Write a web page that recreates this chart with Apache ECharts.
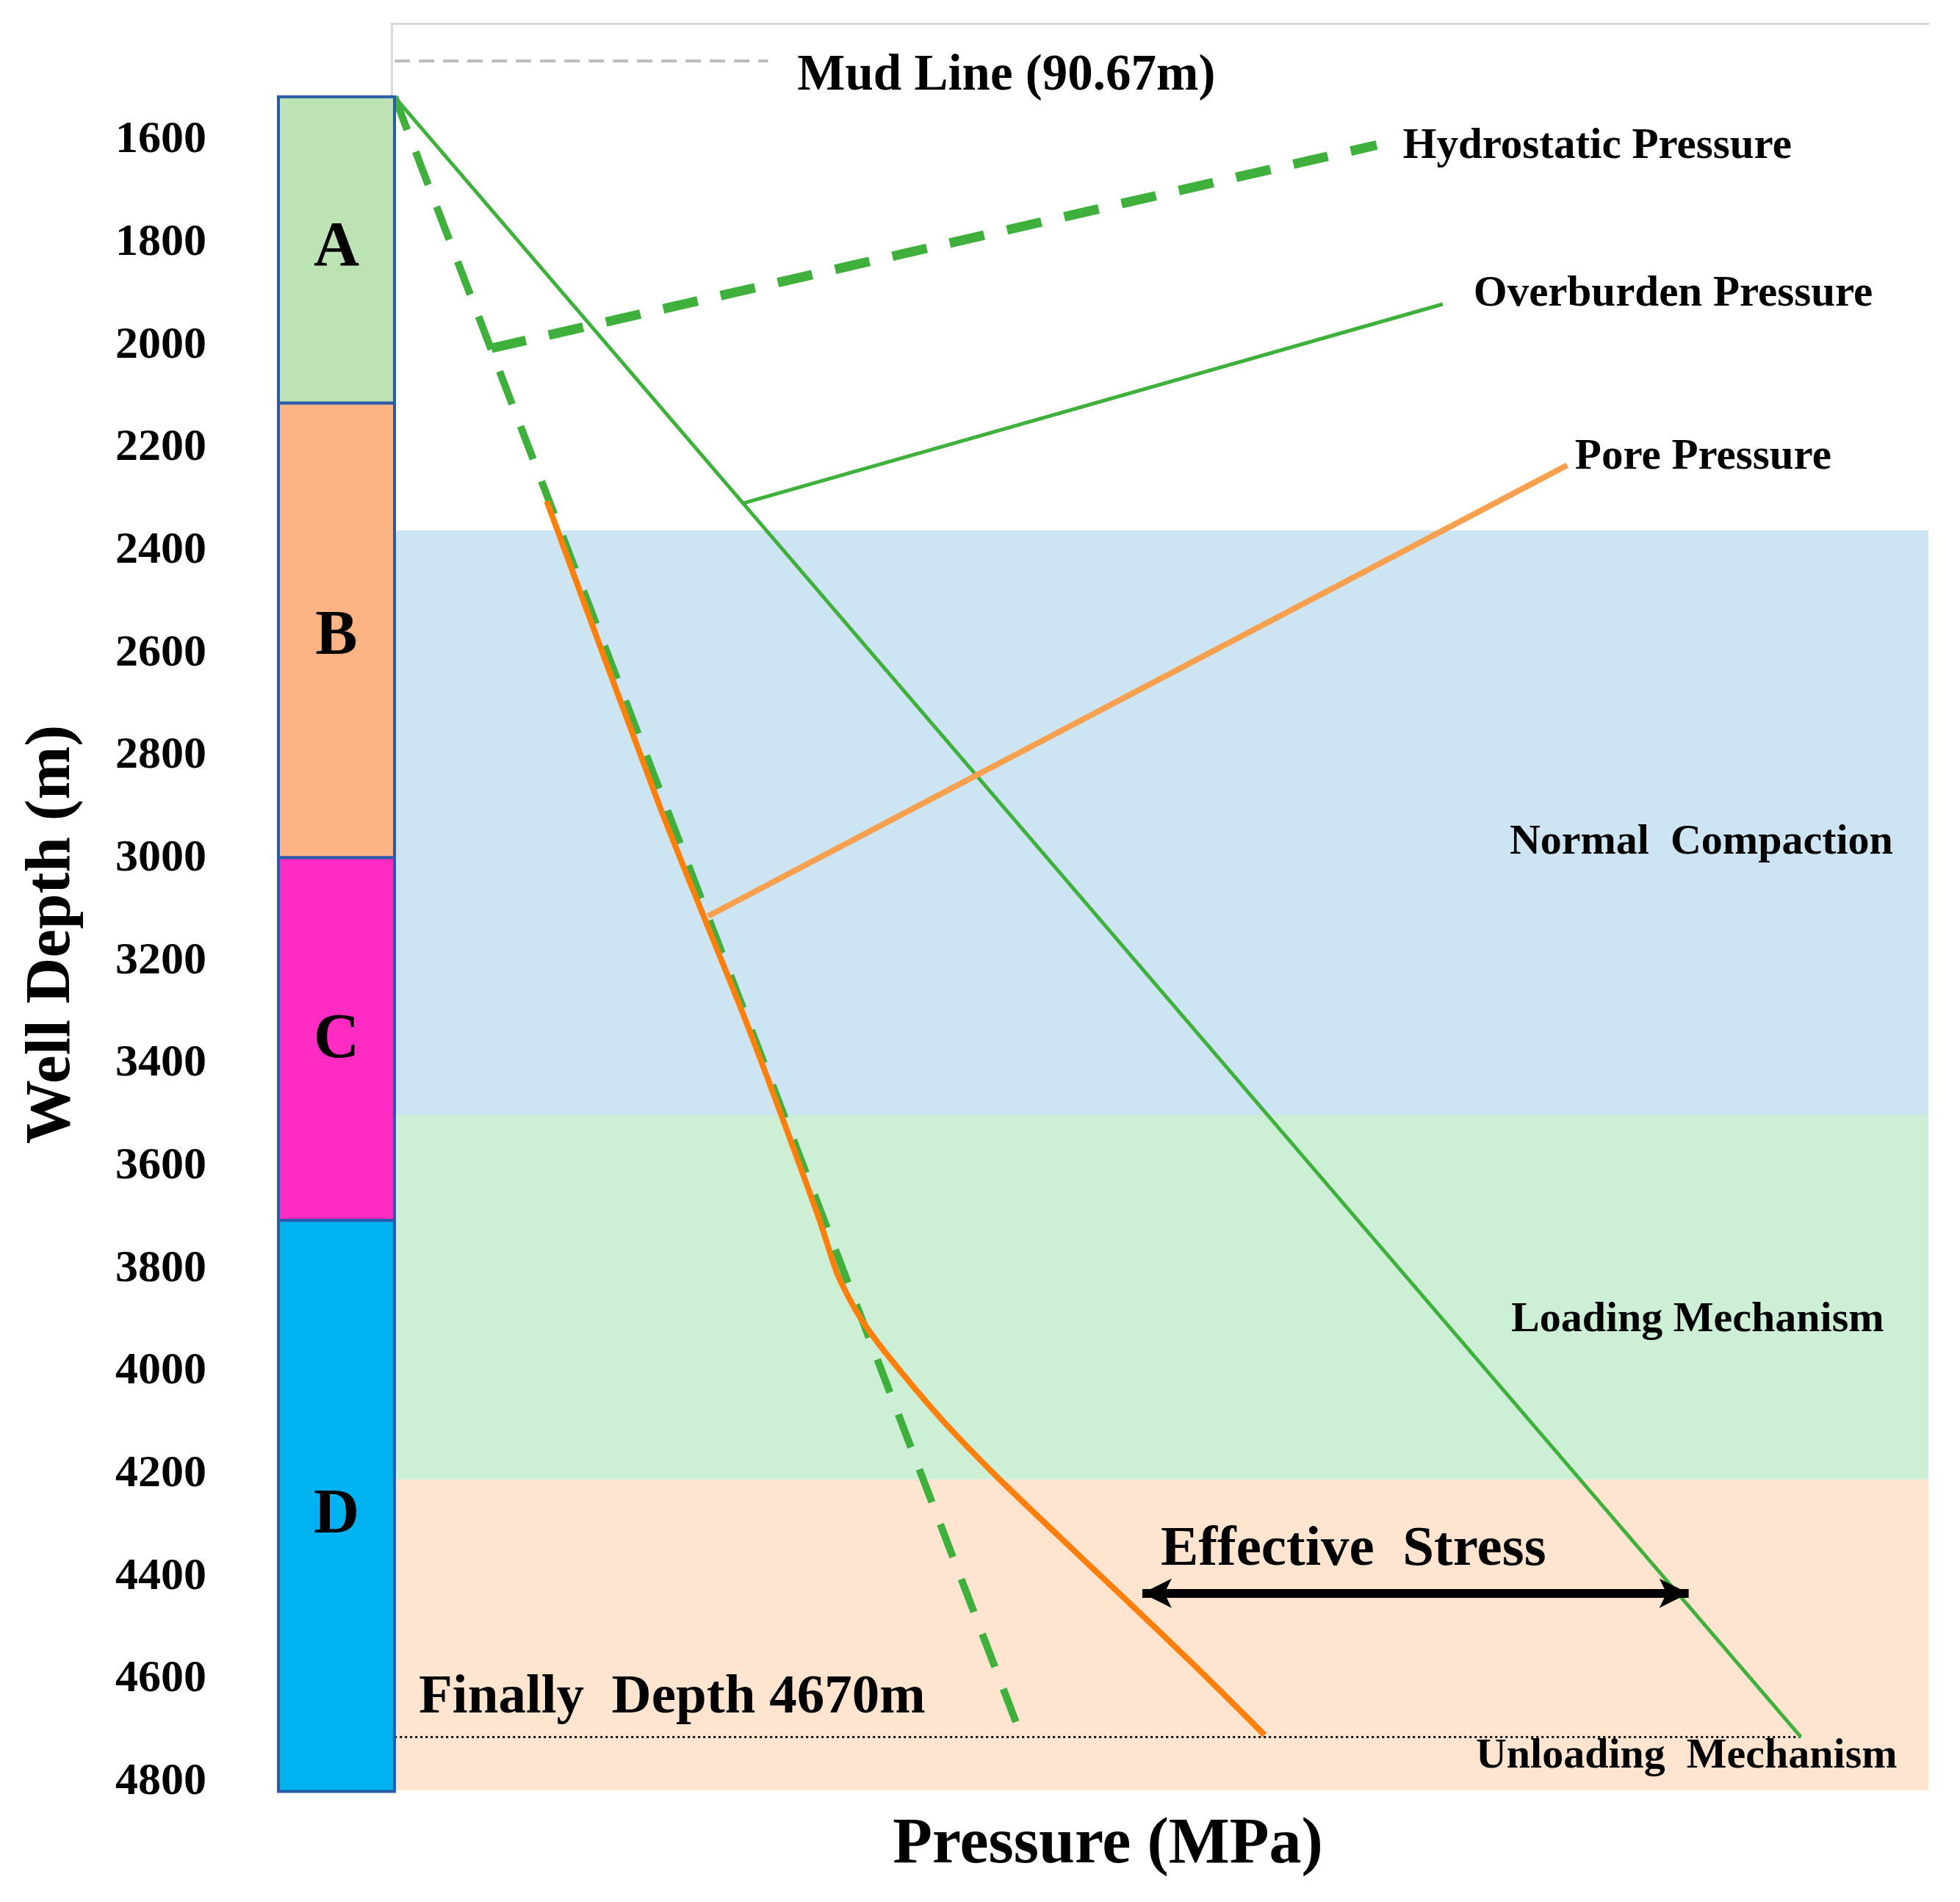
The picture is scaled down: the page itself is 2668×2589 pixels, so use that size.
<!DOCTYPE html>
<html>
<head>
<meta charset="utf-8">
<script src="https://cdn.jsdelivr.net/npm/echarts@6/dist/echarts.min.js"></script>
<style>
  html, body { margin: 0; padding: 0; background: #ffffff; }
  #chart { width: 2668px; height: 2589px; }
</style>
</head>
<body>
<div id="chart"></div>
<script>
// ---------------- DATA (pressure in relative units, depth in m) ----------------
const depthTicks = [1600, 1800, 2000, 2200, 2400, 2600, 2800, 3000, 3200, 3400, 3600, 3800, 4000, 4200, 4400, 4600, 4800];
const depthMin = 1372;
const depthMax = 4816;

// stratigraphic column
const strataNames = ['A', 'B', 'C', 'D'];
const strataTop = [1515, 2112, 2998, 3705];
const strataBottom = [2112, 2998, 3705, 4818];
const strataLabelDepth = [1812, 2569, 3355, 4282];

// background zones
const zoneNames = ['Normal Compaction', 'Loading Mechanism', 'Unloading Mechanism'];
const zoneTop = [2360, 3500, 4210];
const zoneBottom = [3500, 4210, 4816];

// curves  [pressure, depth]
const hydrostatic = [[0.2, 1515], [41.0, 4712]];
const overburden = [[0.2, 1515], [91.7, 4712]];
const porePressure = [[10.1, 2303], [17.5, 2902], [23.15, 3324], [27.8, 3700], [29.0, 3809], [30.4, 3890], [32.2, 3965], [35.8, 4093], [39.4, 4205], [43.4, 4320], [47.8, 4445], [52.5, 4580], [56.8, 4708]];

// leader lines to the curve labels
const hydroLeader = [[6.5, 2005], [64.1, 1609]];
const overLeader = [[22.9, 2307], [68.4, 1919]];
const poreLeader = [[20.6, 3112], [76.5, 2233]];

// reference lines
const mudLine = [[0.2, 1445], [24.5, 1445]];
const finalDepthLine = [[0.2, 4712], [91.7, 4712]];
const effectiveStressArrow = [[48.85, 4432], [84.4, 4432]];

// annotations: [pressure, depth, text]
const annotations = [
  [26.4, 1475, 'Mud Line (90.67m)'],
  [65.8, 1612, 'Hydrostatic Pressure'],
  [70.4, 1900, 'Overburden Pressure'],
  [77.0, 2218, 'Pore Pressure'],
  [72.75, 2969, 'Normal  Compaction'],
  [72.85, 3900, 'Loading Mechanism'],
  [70.55, 4750, 'Unloading  Mechanism'],
  [50.05, 4348, 'Effective  Stress'],
  [1.77, 4637, 'Finally  Depth 4670m']
];

// ---------------- STYLES ----------------
const FONT = "'Liberation Serif', 'Times New Roman', serif";
const annotationSize = {
  'Mud Line (90.67m)': 69,
  'Hydrostatic Pressure': 59,
  'Overburden Pressure': 59,
  'Pore Pressure': 59,
  'Effective  Stress': 77,
  'Finally  Depth 4670m': 75
};
const defaultAnnotationSize = 58;
const strataColors = ['#bde3b5', '#fdb384', '#ff2bc2', '#00b2f0'];
const zoneColors = ['#cde4f2', '#ccefd6', '#ffe4cf'];
const GREEN = '#3fb03c';
const ORANGE = '#ff7f0a';
const ORANGE_LIGHT = '#f8a04e';
const BORDER = '#dadada';

const chart = echarts.init(document.getElementById('chart'), null, { renderer: 'canvas' });

const option = {
  backgroundColor: '#ffffff',
  animation: false,
  grid: [
    { left: 533, top: 32, width: 2092, height: 2405 },
    { left: 379, top: 32, width: 158, height: 2405 }
  ],
  xAxis: [
    {
      gridIndex: 0, type: 'value', min: 0, max: 100, position: 'top',
      axisLine: { show: true, lineStyle: { color: BORDER, width: 3 } },
      axisTick: { show: false }, axisLabel: { show: false }, splitLine: { show: false }
    },
    {
      gridIndex: 0, type: 'value', min: 0, max: 100, position: 'bottom',
      axisLine: { show: false }, axisTick: { show: false }, axisLabel: { show: false }, splitLine: { show: false },
      name: 'Pressure (MPa)', nameLocation: 'middle', nameGap: 31,
      nameTextStyle: { fontFamily: FONT, fontWeight: 'bold', fontSize: 88, color: '#000', padding: [0, 142, 0, 0] }
    },
    {
      gridIndex: 1, type: 'value', min: 0, max: 1, show: false
    }
  ],
  yAxis: [
    {
      gridIndex: 0, type: 'value', inverse: true, min: depthMin, max: depthMax, position: 'left',
      axisLine: { show: true, lineStyle: { color: BORDER, width: 3 } },
      axisTick: { show: false },
      splitLine: { show: false },
      axisLabel: {
        show: true, customValues: depthTicks, margin: 252,
        formatter: function (v) { return String(v); },
        fontFamily: FONT, fontWeight: 'bold', fontSize: 62, color: '#000'
      },
      name: 'Well Depth (m)', nameLocation: 'middle', nameGap: 418, nameRotate: 90,
      nameTextStyle: { fontFamily: FONT, fontWeight: 'bold', fontSize: 87, color: '#000', padding: [0, 75, 0, 0] }
    },
    {
      gridIndex: 0, type: 'value', inverse: true, min: depthMin, max: depthMax, position: 'right',
      axisLine: { show: true, lineStyle: { color: BORDER, width: 3 } },
      axisTick: { show: false }, axisLabel: { show: false }, splitLine: { show: false }
    },
    {
      gridIndex: 1, type: 'value', inverse: true, min: depthMin, max: depthMax, show: false
    }
  ],
  series: [
    // background zones
    {
      type: 'line', xAxisIndex: 0, yAxisIndex: 0, data: [], silent: true, z: 1,
      markArea: {
        silent: true,
        label: { show: false },
        data: zoneTop.map((t, i) => [
          { name: zoneNames[i], yAxis: t, itemStyle: { color: zoneColors[i], opacity: 1 } },
          { yAxis: zoneBottom[i] }
        ])
      }
    },
    // stratigraphic column
    {
      type: 'custom', xAxisIndex: 2, yAxisIndex: 2, silent: true, clip: false, z: 5,
      data: strataNames.map((n, i) => [0, strataTop[i], strataBottom[i], i]),
      renderItem: function (params, api) {
        const i = api.value(3);
        const p1 = api.coord([0, api.value(1)]);
        const p2 = api.coord([1, api.value(2)]);
        const pc = api.coord([0.5, strataLabelDepth[i]]);
        return {
          type: 'group',
          children: [
            {
              type: 'rect',
              shape: { x: p1[0], y: p1[1], width: p2[0] - p1[0], height: p2[1] - p1[1] },
              style: { fill: strataColors[i], stroke: '#2a5ba8', lineWidth: 4 }
            },
            {
              type: 'text',
              x: pc[0], y: pc[1],
              style: {
                text: strataNames[i], fill: '#000',
                font: 'bold 86px ' + FONT,
                align: 'center', verticalAlign: 'middle'
              }
            }
          ]
        };
      }
    },
    // mud line
    {
      name: 'Mud Line', type: 'line', data: mudLine, symbol: 'none', silent: true, z: 3,
      lineStyle: { color: '#bdbdbd', width: 4, type: [21, 12] }
    },
    // final depth dotted line
    {
      name: 'Final Depth', type: 'line', data: finalDepthLine, symbol: 'none', silent: true, z: 3,
      lineStyle: { color: '#111', width: 3, type: [3, 4] }
    },
    // hydrostatic
    {
      name: 'Hydrostatic Pressure', type: 'line', data: hydrostatic, symbol: 'none', silent: true, z: 4,
      lineStyle: { color: GREEN, width: 10, type: [48, 32] }
    },
    {
      name: 'Hydrostatic leader', type: 'line', data: hydroLeader, symbol: 'none', silent: true, z: 4,
      lineStyle: { color: GREEN, width: 13, type: [48, 32] }
    },
    // overburden
    {
      name: 'Overburden Pressure', type: 'line', data: overburden, symbol: 'none', silent: true, z: 4,
      lineStyle: { color: GREEN, width: 5 }
    },
    {
      name: 'Overburden leader', type: 'line', data: overLeader, symbol: 'none', silent: true, z: 4,
      lineStyle: { color: GREEN, width: 5 }
    },
    // pore pressure
    {
      name: 'Pore leader', type: 'line', data: poreLeader, symbol: 'none', silent: true, z: 4,
      lineStyle: { color: ORANGE_LIGHT, width: 8 }
    },
    {
      name: 'Pore Pressure', type: 'line', data: porePressure, symbol: 'none', silent: true, z: 6,
      smooth: 0.25,
      lineStyle: { color: ORANGE, width: 8 }
    },
    // effective stress arrow
    {
      name: 'Effective Stress', type: 'line', data: [], silent: true, z: 6,
      markLine: {
        silent: true,
        symbol: ['arrow', 'arrow'],
        symbolSize: [30, 40],
        label: { show: false },
        lineStyle: { color: '#000', width: 12, type: 'solid' },
        emphasis: { disabled: true },
        data: [[{ coord: effectiveStressArrow[0] }, { coord: effectiveStressArrow[1] }]]
      }
    },
    // annotations
    {
      name: 'Annotations', type: 'custom', xAxisIndex: 0, yAxisIndex: 0, silent: true, clip: false, z: 10,
      data: annotations.map((a, i) => [a[0], a[1], i]),
      renderItem: function (params, api) {
        const a = annotations[api.value(2)];
        const p = api.coord([api.value(0), api.value(1)]);
        const size = annotationSize[a[2]] || defaultAnnotationSize;
        return {
          type: 'text',
          x: p[0], y: p[1],
          style: {
            text: a[2], fill: '#000', opacity: 1,
            font: 'bold ' + size + 'px ' + FONT,
            align: 'left', verticalAlign: 'middle'
          }
        };
      }
    }
  ]
};

chart.setOption(option);
</script>
</body>
</html>
